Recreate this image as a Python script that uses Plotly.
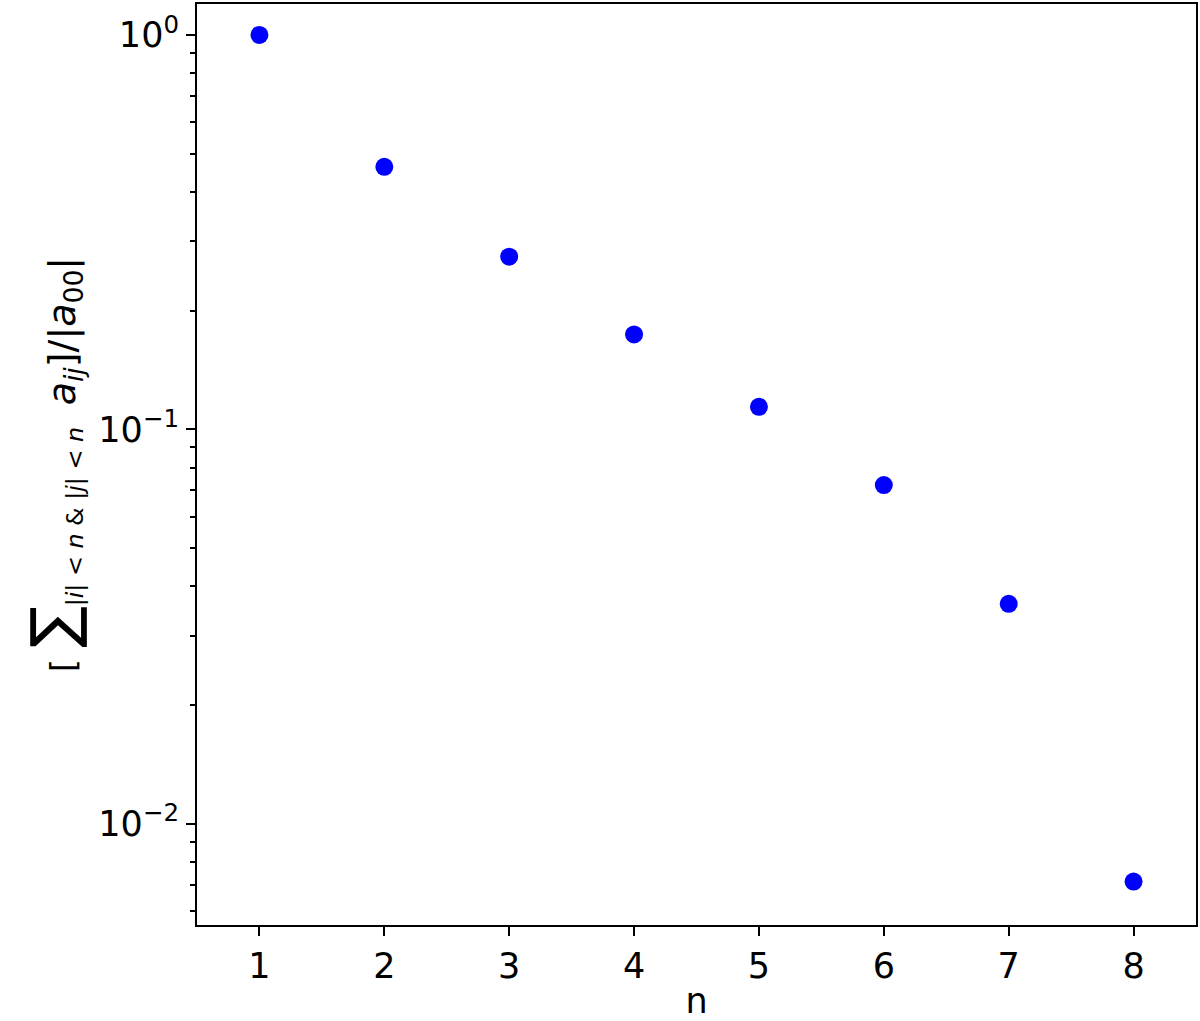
import plotly.graph_objects as go

n_values = [1, 2, 3, 4, 5, 6, 7, 8]
ratio_values = [1.0, 0.463, 0.274, 0.174, 0.114, 0.0722, 0.0361, 0.00713]
y_tickvals = [1.0, 0.1, 0.01]
y_ticktext = ["10<sup>0</sup>", "10<sup>\u22121</sup>", "10<sup>\u22122</sup>"]
x_tickvals = [1, 2, 3, 4, 5, 6, 7, 8]

FONT = "DejaVu Sans"

fig = go.Figure()
fig.add_trace(go.Scatter(
    x=n_values, y=ratio_values, mode="markers",
    marker=dict(color="#0000ff", size=18, line=dict(width=0)),
    showlegend=False,
))

ytitle = ("[ <span style='font-size:62px'>\u2211</span>"
          "<sub>|<i>i</i>| &lt; <i>n</i> &amp; |<i>j</i>| &lt; <i>n</i></sub>  "
          "<span style='font-size:38px'><i>a</i><sub><i>ij</i></sub>]/|<i>a</i><sub>00</sub>|</span>")

fig.update_layout(
    width=1200, height=1021,
    margin=dict(l=197, r=3, t=2, b=96),
    paper_bgcolor="white", plot_bgcolor="white",
    font=dict(family=FONT, size=35, color="black"),
    xaxis=dict(
        range=[0.5, 8.5], tickvals=x_tickvals,
        ticks="outside", ticklen=9, tickwidth=2, tickcolor="black",
        showline=True, linewidth=2, linecolor="black", mirror=True,
        showgrid=False, zeroline=False,
        title=dict(text="n", standoff=6, font=dict(size=35)),
        tickfont=dict(size=35),
    ),
    yaxis=dict(
        type="log", range=[-2.257, 0.0785],
        tickvals=y_tickvals, ticktext=y_ticktext,
        ticks="outside", ticklen=9, tickwidth=2, tickcolor="black",
        minor=dict(ticks="outside", ticklen=5, tickwidth=1.5, tickcolor="black", dtick="D1", showgrid=False),
        showline=True, linewidth=2, linecolor="black", mirror=True,
        showgrid=False, zeroline=False,
        title=dict(text=ytitle, standoff=12, font=dict(size=34)),
        tickfont=dict(size=35),
    ),
)

fig.write_html("out.html", config={"displayModeBar": False},
               post_script="document.body.style.margin='0';document.body.style.padding='0';")
